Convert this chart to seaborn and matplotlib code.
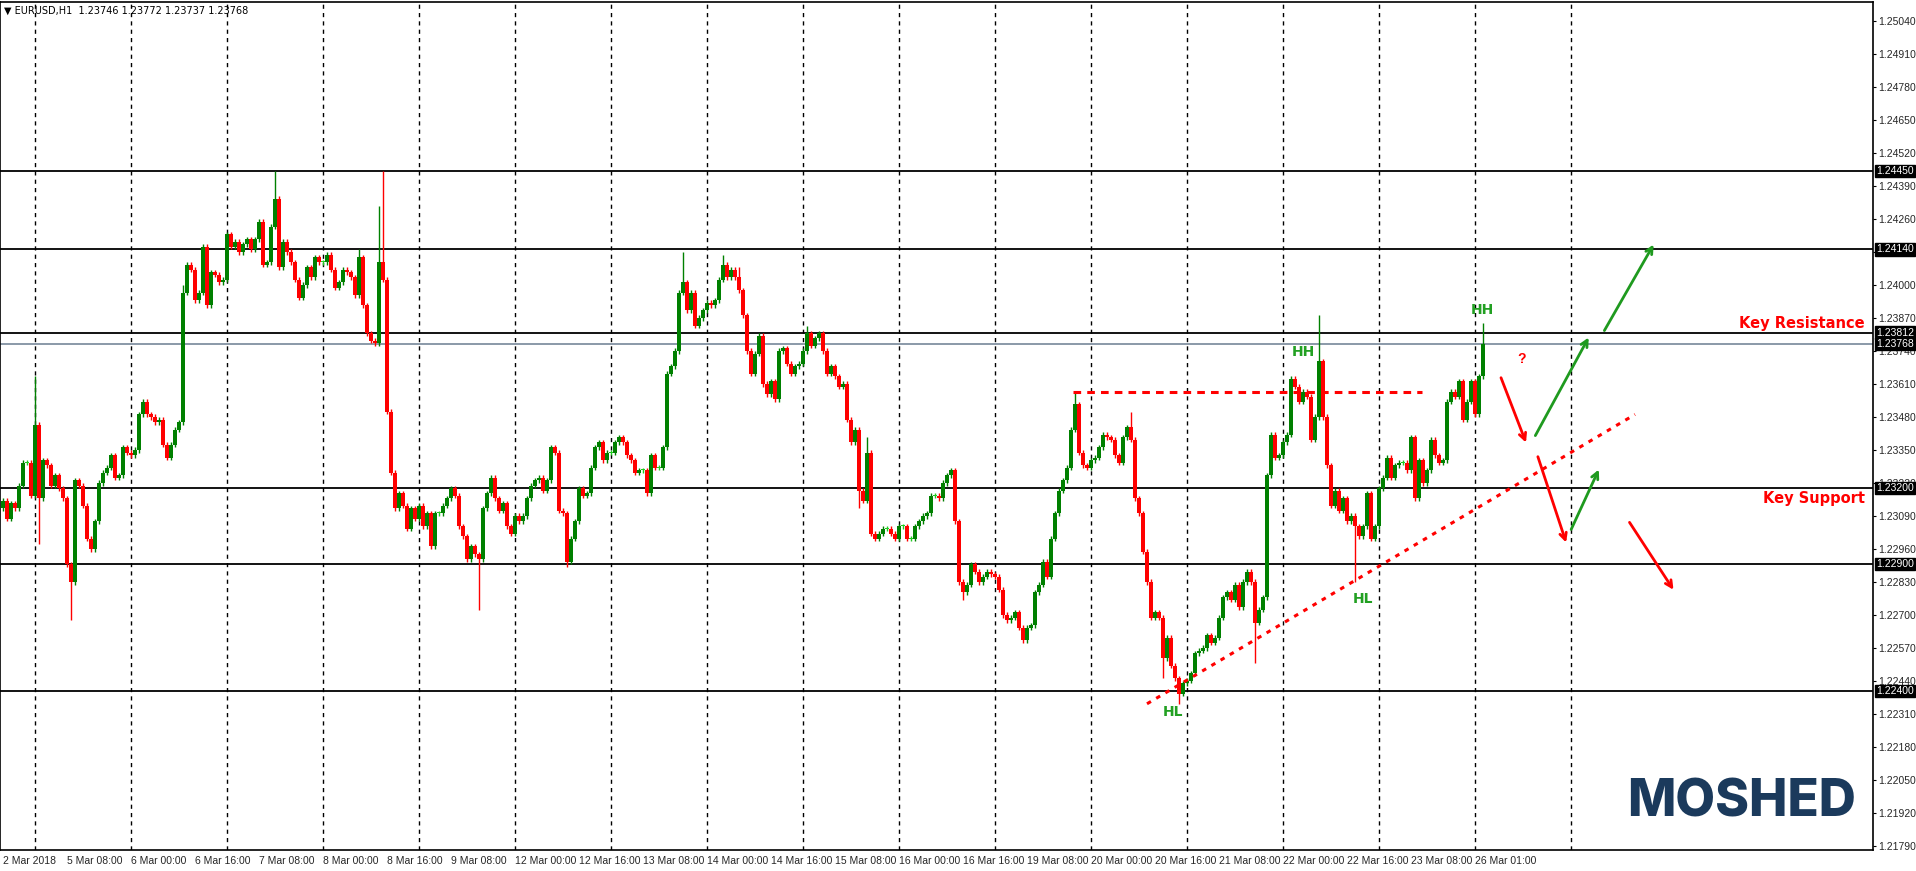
import numpy as np
import matplotlib
matplotlib.use("Agg")
import matplotlib.pyplot as plt
import matplotlib.transforms as mtransforms
import seaborn as sns

# ---------------- data (hourly closes, EURUSD H1) ----------------
closes_a = [1.2315,1.2308,1.2314,1.2312,1.2321,1.2330,1.2330,1.2317,1.2345,1.2316,
            1.2331,1.2329,1.2321,1.2325,1.2320,1.2316,1.2290,1.2283,1.2323,1.2321,
            1.2313,1.2300,1.2296,1.2307,1.2322,1.2326,1.2328,1.2333,1.2324,1.2325,
            1.2336,1.2334,1.2333,1.2335,1.2349,1.2354,1.2349,1.2348,1.2346,1.2347,
            1.2337,1.2332,1.2337,1.2343,1.2346]
closes_b = [1.2397,1.2408,1.2406,1.2394,1.2397,1.2415,1.2392,1.2405,1.2404,1.2401,
            1.2402,1.2420,1.2415,1.2417,1.2413,1.2416,1.2418,1.2414,1.2418,1.2425,
            1.2408,1.2409,1.2423,1.2434,1.2407,1.2417,1.2413,1.2409,1.2402,1.2395,
            1.2400,1.2407,1.2403,1.2411,1.2409]
closes_c = [1.2409,1.2412,1.2406,1.2399,1.2401,1.2406,1.2405,1.2403,1.2396,1.2411,
            1.2392,1.2381,1.2378,1.2377,1.2409,1.2402,1.2350,1.2326,1.2312]
closes_d = [1.2318,1.2313,1.2304,1.2312,1.2308,1.2313,1.2305,1.2310,1.2297,1.2310,
            1.2310,1.2313,1.2316,1.2320,1.2317,1.2305,1.2301,1.2292,1.2297,1.2294,
            1.2292,1.2312,1.2318,1.2324,1.2316,1.2311,1.2314,1.2305,1.2302,1.2309,
            1.2307,1.2309,1.2316,1.2321,1.2323,1.2324,1.2319,1.2323,1.2336,1.2334,
            1.2311,1.2310,1.2291,1.2300,1.2307,1.2320,1.2317,1.2318,1.2328,1.2336,
            1.2338,1.2331,1.2334,1.2334,1.2338,1.2340,1.2338,1.2333,1.2331,1.2326,
            1.2327,1.2327,1.2318,1.2333,1.2328,1.2328,1.2336,1.2365]
closes_e = [1.2368,1.2374,1.2397,1.2401,1.2390,1.2397,1.2384,1.2387,1.2390,1.2393,
            1.2392,1.2394,1.2402,1.2408,1.2403,1.2406,1.2403,1.2398,1.2388,1.2374,
            1.2365,1.2373,1.2380,1.2361,1.2357,1.2362,1.2355,1.2374,1.2375,1.2369,
            1.2365,1.2368,1.2369,1.2374,1.2381,1.2376,1.2379,1.2381,1.2374,1.2365,
            1.2368,1.2364,1.2360,1.2361,1.2347,1.2338,1.2343,1.2319,1.2315,1.2334,
            1.2302,1.2300,1.2302,1.2304,1.2304,1.2302,1.2300,1.2305]
closes_f = [1.2305,1.2300,1.2300,1.2305,1.2307,1.2309,1.2310,1.2317,1.2317,1.2316,
            1.2322,1.2325,1.2327,1.2307,1.2283,1.2279,1.2282,1.2290,1.2287,1.2283,
            1.2285,1.2287,1.2286,1.2285,1.2280]
closes_g = [1.2270,1.2268,1.2269,1.2271,1.2265,1.2260,1.2265,1.2266,1.2279,1.2282,
            1.2291,1.2285,1.2300,1.2310,1.2319,1.2323,1.2328,1.2343,1.2353,1.2334,
            1.2329,1.2328,1.2331,1.2332,1.2336,1.2341,1.2340,1.2339,1.2333,1.2330,
            1.2340,1.2344,1.2339,1.2316,1.2310,1.2295,1.2283,1.2269,1.2271,1.2269,
            1.2253,1.2261,1.2250,1.2245,1.2239,1.2243,1.2244,1.2247,1.2255,1.2256,
            1.2257,1.2262,1.2259,1.2261,1.2269,1.2277,1.2279,1.2276,1.2282,1.2273,
            1.2283,1.2287,1.2283,1.2267]
closes_h = [1.2272,1.2277,1.2325,1.2341,1.2332,1.2333,1.2338,1.2341,1.2363,1.2360,
            1.2354,1.2358,1.2356,1.2339,1.2348,1.2370,1.2348,1.2329,1.2313,1.2319,
            1.2311,1.2316,1.2307,1.2309,1.2305,1.2301,1.2305,1.2318,1.2300,1.2305,
            1.2320,1.2324,1.2332,1.2324,1.2329,1.2330,1.2330,1.2327,1.2340,1.2316,
            1.2331,1.2322,1.2327,1.2339,1.2333,1.2330,1.2331,1.2354,1.2358,1.2356,
            1.2362,1.2347,1.2354,1.2362,1.2349,1.2364,1.23768]
first_open = 1.2312
spike_highs = {8: 1.2364, 68: 1.2445, 94: 1.2431, 95: 1.2445, 170: 1.2413, 180: 1.2412,
               184: 1.2407, 201: 1.2384, 216: 1.2340, 268: 1.2358, 282: 1.2350,
               329: 1.2388, 370: 1.2385, 45: 1.2400, 89: 1.2414}
spike_lows = {9: 1.2298, 17: 1.2268, 119: 1.2272, 141: 1.2289, 290: 1.2245,
              294: 1.2235, 313: 1.2251, 338: 1.2283, 214: 1.2312, 240: 1.2276}

key_levels = [1.24450, 1.24140, 1.23812, 1.23200, 1.22900, 1.22400]
bid_level = 1.23768
resistance_level = 1.2358
trend_pts = ([286, 408], [1.2235, 1.2349])
x_labels = ["2 Mar 2018","5 Mar 08:00","6 Mar 00:00","6 Mar 16:00","7 Mar 08:00","8 Mar 00:00",
            "8 Mar 16:00","9 Mar 08:00","12 Mar 00:00","12 Mar 16:00","13 Mar 08:00","14 Mar 00:00",
            "14 Mar 16:00","15 Mar 08:00","16 Mar 00:00","16 Mar 16:00","19 Mar 08:00","20 Mar 00:00",
            "20 Mar 16:00","21 Mar 08:00","22 Mar 00:00","22 Mar 16:00","23 Mar 08:00","26 Mar 01:00"]
y_ticks = [1.25040 - 0.0013 * k for k in range(26)]

# ---------------- build OHLC ----------------
closes = np.array(closes_a + closes_b + closes_c + closes_d + closes_e + closes_f + closes_g + closes_h)
n = len(closes)
opens = np.concatenate([[first_open], closes[:-1]])
highs = np.maximum(opens, closes) + 0.0001
lows = np.minimum(opens, closes) - 0.0001
for k, v in spike_highs.items():
    highs[k] = max(highs[k], v)
for k, v in spike_lows.items():
    lows[k] = min(lows[k], v)
idx = np.arange(n)

sns.set_theme(style="white")
plt.rcParams['font.family'] = ['Liberation Sans', 'DejaVu Sans']

fig = plt.figure(figsize=(19.16, 8.71), dpi=100)
ax = fig.add_axes([0.0, 21 / 871, 1873 / 1916, 848 / 871])
ax.set_facecolor("white")

GREEN = "#008000"
RED = "#ff0000"
up = closes > opens
dn = closes < opens
eq = closes == opens
colors = np.where(up, GREEN, np.where(dn, RED, "#22cc22"))
ax.vlines(idx, lows, highs, colors=colors, linewidth=1.0, zorder=3)
body_h = np.where(eq, 0.00004, closes - opens)
ax.bar(idx, body_h, bottom=opens, width=0.8, color=colors, linewidth=0, zorder=4)

# grid verticals (daily)
for g in range(8, 393, 24):
    ax.axvline(g, color="black", linestyle=(0, (3, 3)), linewidth=1.0, zorder=1)

for lv in key_levels:
    ax.axhline(lv, color="black", linewidth=1.3, zorder=2)
ax.axhline(bid_level, color="#778899", linewidth=1.2, zorder=2)

sns.lineplot(x=[267.5, 354.75], y=[resistance_level, resistance_level], ax=ax, color=RED,
             linewidth=2.2, linestyle=(0, (2.5, 2)), zorder=5)
sns.lineplot(x=trend_pts[0], y=trend_pts[1], ax=ax, color=RED, linewidth=2.2,
             linestyle=(0, (1.5, 2)), zorder=5)

arrows = [((374.25, 1.23645), (381.0, 1.23369), RED),
          ((382.75, 1.23397), (396.75, 1.23803), "#1f9a1f"),
          ((400.0, 1.23811), (413.0, 1.24169), "#1f9a1f"),
          ((383.5, 1.23334), (391.0, 1.22975), RED),
          ((391.75, 1.23027), (399.25, 1.23283), "#1f9a1f"),
          ((406.25, 1.23074), (418.0, 1.22790), RED)]
for (x0, y0), (x1, y1), c in arrows:
    ax.annotate("", xy=(x1, y1), xytext=(x0, y0),
                arrowprops=dict(arrowstyle="->", color=c, lw=2.0, mutation_scale=12), zorder=6)

LG = "#22a022"
for t, x, y in [("HH", 325, 1.23736), ("HH", 369.75, 1.23901), ("HL", 340, 1.22763), ("HL", 292.5, 1.22317)]:
    ax.text(x, y, t, color=LG, fontsize=10, fontweight="bold", ha="center", va="center", zorder=7,
            family=["DejaVu Sans"])
ax.text(379.75, 1.23708, "?", color=RED, fontsize=10, fontweight="bold", ha="center", va="center")
ax.text(465.5, 1.2385, "Key Resistance", color=RED, fontsize=10.5, fontweight="bold", ha="right",
        va="center", family=["DejaVu Sans"])
ax.text(465.5, 1.2316, "Key Support", color=RED, fontsize=10.5, fontweight="bold", ha="right",
        va="center", family=["DejaVu Sans"])

ax.text(0.991, 0.026, "MOSHED", transform=ax.transAxes, color="#1b3a5c", fontsize=37,
        fontweight="heavy", ha="right", va="bottom", family=["Inter", "DejaVu Sans"])

ax.text(0.002, 0.995, "\u25BC EURUSD,H1  1.23746 1.23772 1.23737 1.23768", transform=ax.transAxes,
        fontsize=7, ha="left", va="top", color="black", family=["DejaVu Sans"])

ax.set_xlim(-0.75, 467.5)
ax.set_ylim(1.21774, 1.25115)
ax.yaxis.tick_right()
ax.set_yticks(y_ticks)
ax.set_yticklabels([f"{v:.5f}" for v in y_ticks], fontsize=7.5)
ax.set_xticks(np.arange(len(x_labels)) * 16)
ax.set_xticklabels(x_labels, fontsize=7.5, ha="left")
ax.tick_params(axis="both", direction="out", length=2.5, width=0.8, color="black", pad=1.5)
ax.tick_params(axis="x", pad=2)
for s in ax.spines.values():
    s.set_visible(True)
    s.set_color("black")
    s.set_linewidth(1.2)
ax.set_xlabel("")
ax.set_ylabel("")
if ax.get_legend():
    ax.get_legend().remove()

trans = mtransforms.blended_transform_factory(ax.transAxes, ax.transData)
for lv in key_levels + [bid_level]:
    ax.text(1.0015, lv, f"{lv:.5f}", transform=trans, fontsize=7.5, color="white", ha="left",
            va="center", zorder=10, clip_on=False,
            bbox=dict(boxstyle="square,pad=0.12", fc="black", ec="black"))

fig.savefig("out.png", dpi=100)
